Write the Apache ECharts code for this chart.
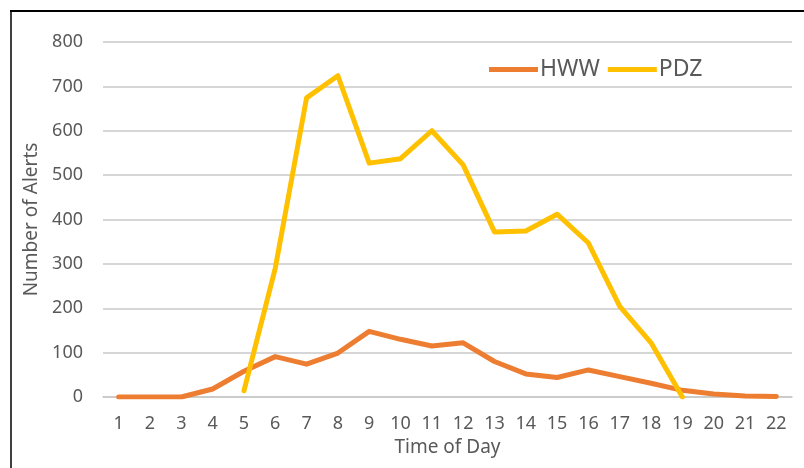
<!DOCTYPE html>
<html>
<head>
<meta charset="utf-8">
<script src="https://cdn.jsdelivr.net/npm/echarts@6/dist/echarts.min.js"></script>
<style>
html,body{margin:0;padding:0;background:#fff;}
#chart{width:804px;height:468px;}
</style>
</head>
<body>
<div id="chart"></div>
<script>
const categories = ['1','2','3','4','5','6','7','8','9','10','11','12','13','14','15','16','17','18','19','20','21','22'];
const hwwValues = [0,0,0,18,58,91,74,99,148,130,115,122,80,52,44,61,46,31,15,7,2,1];
const pdzValues = [null,null,null,null,14,290,674,724,527,537,600,523,372,374,412,347,204,122,0,null,null,null];
const seriesNames = ['HWW','PDZ'];

const chart = echarts.init(document.getElementById('chart'));
const font = '"Noto Sans", "Open Sans", sans-serif';
const textColor = '#595959';
chart.setOption({
  animation: false,
  backgroundColor: '#fff',
  graphic: [
    {type:'line', shape:{x1:10, y1:11, x2:804, y2:11}, style:{stroke:'#000', lineWidth:2}, silent:true},
    {type:'line', shape:{x1:11, y1:10, x2:11, y2:468}, style:{stroke:'#000', lineWidth:1.5}, silent:true}
  ],
  grid: {left:103, right:12, top:42, bottom:71, containLabel:false},
  legend: {
    left: 484, top: 53,
    icon: 'rect', itemWidth: 49, itemHeight: 5, itemGap: 8,
    textStyle: {fontFamily: font, fontSize: 23, color: textColor, padding:[0,0,0,-3]},
    data: seriesNames
  },
  xAxis: {
    type: 'category',
    data: categories,
    boundaryGap: true,
    name: 'Time of Day',
    nameLocation: 'middle',
    nameGap: 41,
    nameTextStyle: {fontFamily: font, fontSize: 19, color: textColor},
    axisLine: {show: true, lineStyle: {color: '#c8c8c8', width: 1.5}},
    axisTick: {show: false},
    axisLabel: {fontFamily: font, fontSize: 18, color: textColor, margin: 18, interval: 0}
  },
  yAxis: {
    type: 'value',
    min: 0, max: 800, interval: 100,
    name: 'Number of Alerts',
    nameLocation: 'middle',
    nameGap: 60,
    nameRotate: 90,
    nameTextStyle: {fontFamily: font, fontSize: 19, color: textColor},
    axisLine: {show: false},
    axisTick: {show: false},
    axisLabel: {fontFamily: font, fontSize: 18, color: textColor, margin: 20},
    splitLine: {lineStyle: {color: '#c8c8c8', width: 1.5}}
  },
  series: [
    {name: seriesNames[0], type: 'line', data: hwwValues, symbol: 'none',
     lineStyle: {color: '#ED7D31', width: 5, join: 'round', cap: 'round'}, itemStyle: {color: '#ED7D31'}},
    {name: seriesNames[1], type: 'line', data: pdzValues, symbol: 'none',
     lineStyle: {color: '#FFC000', width: 5, join: 'round', cap: 'round'}, itemStyle: {color: '#FFC000'}}
  ]
});
</script>
</body>
</html>
